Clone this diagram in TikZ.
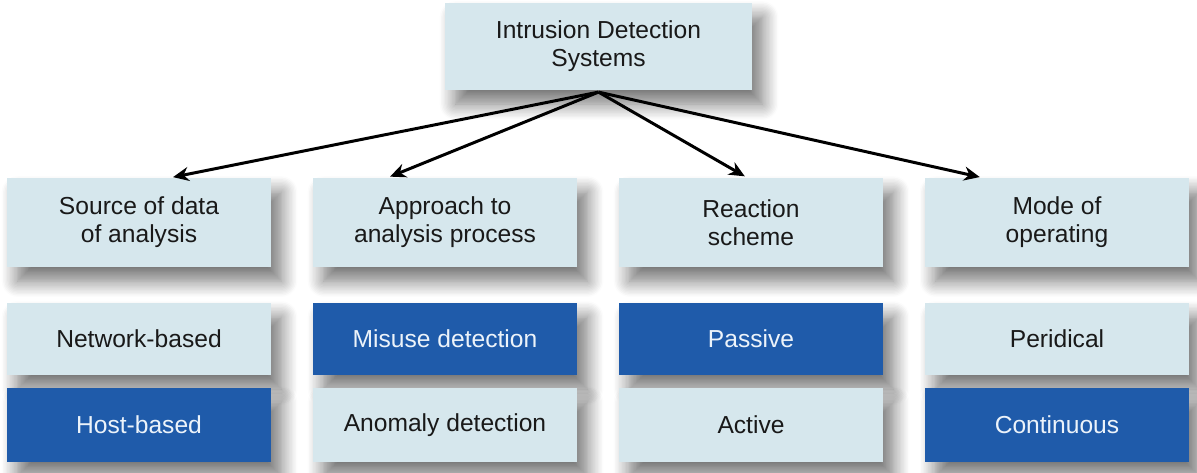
\documentclass[tikz,border=0pt]{standalone}
\usepackage{fontspec}
\setmainfont{Liberation Sans}
\usepackage{tikz}
\usetikzlibrary{arrows.meta}
\usetikzlibrary{shadows.blur}
\definecolor{paleblue}{RGB}{214,231,237}
\definecolor{deepblue}{RGB}{31,91,170}
\definecolor{paletext}{RGB}{236,243,250}

\tikzset{
  box/.style={rectangle, minimum width=5.28cm, minimum height=1.78cm,
    align=center, font=\fontsize{14}{16}\selectfont, text=black!90,
    blur shadow={shadow xshift=6pt, shadow yshift=-8pt,
      shadow blur steps=12, shadow blur radius=9pt, shadow opacity=55}},
  lightbox/.style={box, fill=paleblue},
  darkbox/.style={box, fill=deepblue, text=paletext},
  link/.style={-{Stealth[length=9pt,width=8pt]}, line width=1.7pt,
    shorten >=1.5pt}
}

\begin{document}
\begin{tikzpicture}

\useasboundingbox (0,0) rectangle (23.94,-9.44);

%---------------------------------------
% Root
%---------------------------------------
\node[lightbox, minimum width=6.14cm, minimum height=1.74cm] (ids)
  at (11.97,-0.93) {Intrusion Detection\\Systems};

%---------------------------------------
% Criteria
%---------------------------------------
\node[lightbox] (source)   at (2.78,-4.45)  {Source of data\\of analysis};
\node[lightbox] (approach) at (8.90,-4.45)  {Approach to\\analysis process};
\node[lightbox] (reaction) at (15.02,-4.45) {Reaction\\scheme};
\node[lightbox] (mode)     at (21.14,-4.45) {Mode of\\operating};

%---------------------------------------
% Options (dark = the one in use)
%---------------------------------------
\node[lightbox, minimum height=1.44cm] (network) at (2.78,-6.78)  {Network-based};
\node[darkbox,  minimum height=1.48cm] (host)    at (2.78,-8.50)  {Host-based};

\node[darkbox,  minimum height=1.44cm] (misuse)  at (8.90,-6.78)  {Misuse detection};
\node[lightbox, minimum height=1.48cm] (anomaly) at (8.90,-8.50)  {Anomaly detection};

\node[darkbox,  minimum height=1.44cm] (passive) at (15.02,-6.78) {Passive};
\node[lightbox, minimum height=1.48cm] (active)  at (15.02,-8.50) {Active};

\node[lightbox, minimum height=1.44cm] (periodic)   at (21.14,-6.78) {Peridical};
\node[darkbox,  minimum height=1.48cm] (continuous) at (21.14,-8.50) {Continuous};

%---------------------------------------
% Arrows from the root
%---------------------------------------
\draw[link] ([yshift=-1pt]ids.south) -- (source.55);
\draw[link] ([yshift=-1pt]ids.south) -- (approach.142.5);
\draw[link] ([yshift=-1pt]ids.south) -- (reaction.95);
\draw[link] ([yshift=-1pt]ids.south) -- (mode.149.3);

\end{tikzpicture}
\end{document}
